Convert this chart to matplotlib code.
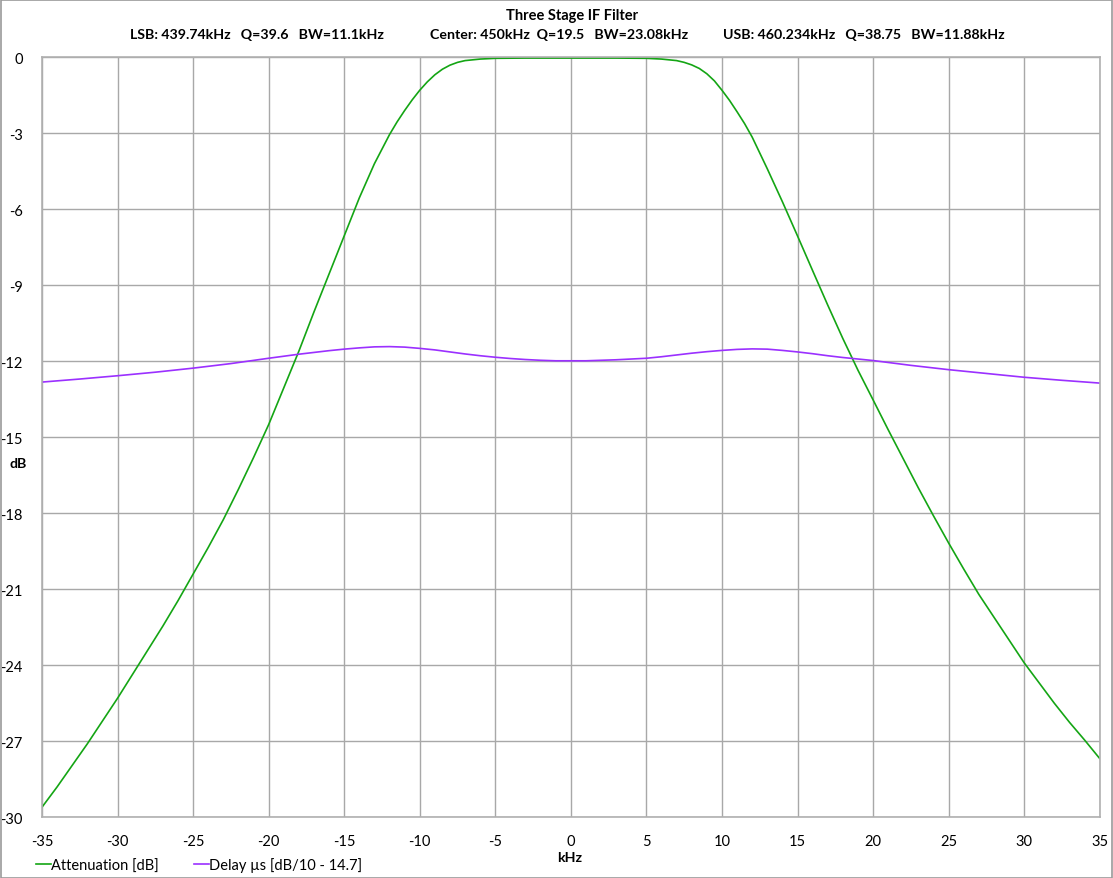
import matplotlib
matplotlib.use("Agg")
import matplotlib.pyplot as plt
from matplotlib.patches import Rectangle

plt.rcParams['font.family'] = ['Lato', 'DejaVu Sans']

# Attenuation readings [dB] vs offset [kHz]
att_khz = [-35, -34, -33, -32, -31, -30, -29, -28, -27, -26, -25, -24, -23, -22, -21,
           -20, -19, -18, -17, -16, -15, -14, -13, -12, -11.5, -11, -10.5, -10, -9.5, -9,
           -8.5, -8, -7.5, -7, -6, -5,
           -3, 0, 3, 5, 6, 7, 7.5, 8, 8.5, 9, 9.5, 10, 10.5, 11, 11.5, 12, 13, 14, 15, 16,
           17, 18, 19, 20,
           21, 22, 23, 24, 25, 26, 27, 28, 29, 30, 31, 32, 33, 34, 35]
att_db = [-29.6, -28.8, -27.95, -27.1, -26.2, -25.3, -24.35, -23.4, -22.45, -21.45, -20.4,
          -19.35, -18.25, -17.05, -15.8, -14.5, -13.05, -11.6, -10.05, -8.55, -7.05,
          -5.55, -4.2, -3.05, -2.55, -2.1, -1.68, -1.3, -0.97, -0.69,
          -0.47, -0.31, -0.2, -0.13, -0.07, -0.04,
          -0.03, -0.03, -0.03, -0.04, -0.07, -0.13, -0.2, -0.3, -0.44, -0.65, -0.93,
          -1.3, -1.7, -2.15, -2.62, -3.15, -4.4, -5.7, -7.05, -8.42,
          -9.78, -11.1, -12.35, -13.52,
          -14.7, -15.85, -17.0, -18.1, -19.17, -20.2, -21.2, -22.1, -23.0, -23.9,
          -24.7, -25.5, -26.25, -26.95, -27.68]

# Delay readings (scaled as dB/10 - 14.7)
dly_khz = [-35, -32.5, -30, -27.5, -25, -22.5, -20, -19, -18, -17, -16, -15, -14, -13, -12,
           -11, -10, -9, -8, -7, -6, -5, -4, -3, -2, -1, 0, 1, 2, 3, 4, 5, 6, 7, 8, 9,
           10, 11, 12, 13, 14, 15, 16, 17, 18, 19, 20, 22.5, 25, 27.5, 30, 32.5, 35]
dly_val = [-12.82, -12.7, -12.57, -12.43, -12.27, -12.09, -11.88, -11.8, -11.72, -11.65,
           -11.58, -11.52, -11.47, -11.43, -11.42, -11.44, -11.49, -11.55, -11.63, -11.71,
           -11.78, -11.84, -11.89, -11.93, -11.96, -11.98, -11.98, -11.98, -11.96, -11.94,
           -11.91, -11.88, -11.82, -11.75, -11.68, -11.62, -11.57, -11.53, -11.51, -11.52,
           -11.57, -11.63, -11.7, -11.78, -11.85, -11.91, -11.97, -12.16, -12.33, -12.48,
           -12.63, -12.75, -12.86]

x_ticks = [-35, -30, -25, -20, -15, -10, -5, 0, 5, 10, 15, 20, 25, 30, 35]
y_ticks = [0, -3, -6, -9, -12, -15, -18, -21, -24, -27, -30]

title = "Three Stage IF Filter"
sub_lsb = "LSB: 439.74kHz   Q=39.6   BW=11.1kHz"
sub_ctr = "Center: 450kHz  Q=19.5   BW=23.08kHz"
sub_usb = "USB: 460.234kHz   Q=38.75   BW=11.88kHz"

W, H = 1113, 879
fig = plt.figure(figsize=(W / 100, H / 100), dpi=100)
ax = fig.add_axes([42 / W, 1 - 818.3 / H, (1099.7 - 42) / W, (818.3 - 58.3) / H])

green = '#14a514'
purple = '#9b30ff'
ax.plot(att_khz, att_db, color=green, lw=1.2, label='Attenuation [dB]')
ax.plot(dly_khz, dly_val, color=purple, lw=1.2, label='Delay µs [dB/10 - 14.7]')

ax.set_xlim(-35, 35)
ax.set_ylim(-30, 0)
ax.set_xticks(x_ticks)
ax.set_yticks(y_ticks)
ax.set_xticklabels([str(v) for v in x_ticks])
ax.set_yticklabels([str(v) for v in y_ticks])
ax.grid(True, color='#a8a8a8', lw=1.0)
ax.set_axisbelow(True)
for s in ax.spines.values():
    s.set_color('#b0b0b0')
    s.set_linewidth(1.2)
ax.tick_params(axis='both', length=0, labelsize=10.5, colors='black')
ax.tick_params(axis='y', pad=14)
ax.tick_params(axis='x', pad=12)

fs = 10.2
fig.text(572 / W, 1 - 16 / H, title, ha='center', va='center', fontsize=10.5, fontweight='bold')
fig.text(130 / W, 1 - 35 / H, sub_lsb, ha='left', va='center', fontsize=fs, fontweight='bold')
fig.text(430 / W, 1 - 35 / H, sub_ctr, ha='left', va='center', fontsize=fs, fontweight='bold')
fig.text(723 / W, 1 - 35 / H, sub_usb, ha='left', va='center', fontsize=fs, fontweight='bold')

fig.text(18 / W, 1 - 464 / H, 'dB', ha='center', va='center', fontsize=fs, fontweight='bold')
fig.text(570 / W, 1 - 858 / H, 'kHz', ha='center', va='center', fontsize=fs, fontweight='bold')

fig.legend(loc='center left', bbox_to_anchor=(36 / W, 1 - 866 / H), ncol=2, frameon=False,
           fontsize=10.5, handlelength=1.0, handletextpad=0.05, columnspacing=2.4,
           borderaxespad=0, borderpad=0)

fig.patches.append(Rectangle((0.5 / W, 0.5 / H), 1 - 1.5 / W, 1 - 1.5 / H, transform=fig.transFigure,
                             fill=False, edgecolor='#9a9a9a', lw=1.2))

fig.savefig('out.png', dpi=100)
